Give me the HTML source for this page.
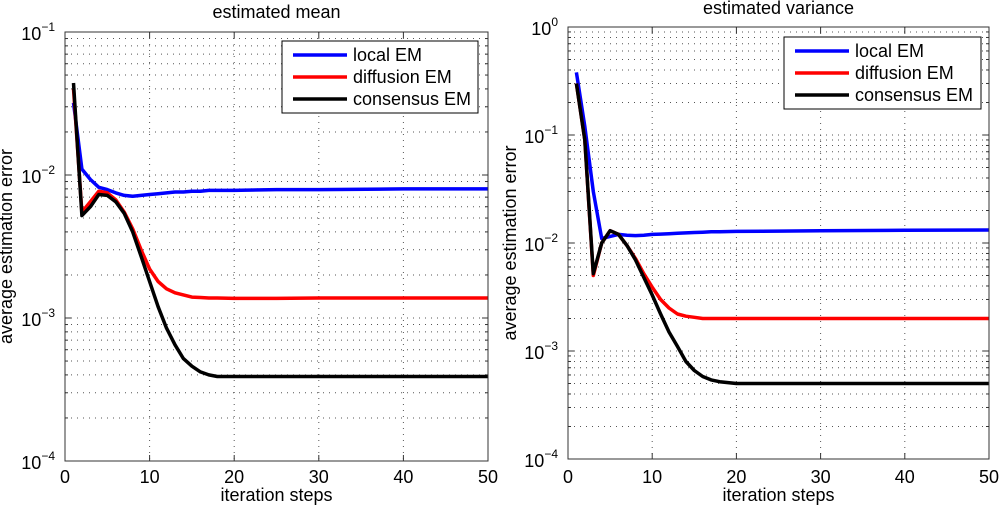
<!DOCTYPE html>
<html><head><meta charset="utf-8">
<style>
html,body{margin:0;padding:0;background:#fff;}
svg{display:block;font-family:"Liberation Sans",Arial,sans-serif;}
</style></head>
<body>
<svg id="chart" width="1000" height="511" viewBox="0 0 1000 511"></svg>
<script>
// ---- data: estimated mean ----
const meanX = [1,2,3,4,5,6,7,8,9,10,11,12,13,14,15,16,17,18,20,25,30,40,50];
const meanLocal = [0.032,0.011,0.0093,0.0082,0.0079,0.0075,0.0072,0.0071,0.0072,0.0073,0.0074,0.0075,0.0076,0.0076,0.0077,0.0077,0.0078,0.0078,0.0078,0.0079,0.0079,0.008,0.008];
const meanDiff = [0.040,0.0055,0.0065,0.0077,0.0075,0.0067,0.0055,0.0042,0.003,0.0022,0.0018,0.0016,0.0015,0.00145,0.0014,0.00139,0.00138,0.00138,0.00137,0.00137,0.00138,0.00138,0.00138];
const meanCons = [0.044,0.0052,0.006,0.0073,0.0072,0.0065,0.0054,0.004,0.0027,0.0018,0.0012,0.00085,0.00065,0.00052,0.00046,0.00042,0.0004,0.00039,0.00039,0.00039,0.00039,0.00039,0.00039];
// ---- data: estimated variance ----
const varX = [1,2,3,4,5,6,7,8,9,10,11,12,13,14,15,16,17,18,20,25,30,40,50];
const varLocal = [0.38,0.12,0.03,0.011,0.0115,0.012,0.0118,0.0117,0.0118,0.012,0.0121,0.0122,0.0123,0.0124,0.0125,0.0126,0.0127,0.0127,0.0128,0.0129,0.013,0.0131,0.0132];
const varDiff = [0.30,0.09,0.005,0.01,0.013,0.012,0.0095,0.0072,0.0052,0.0039,0.003,0.0025,0.0022,0.0021,0.00205,0.002,0.002,0.002,0.002,0.002,0.002,0.002,0.002];
const varCons = [0.30,0.09,0.0052,0.01,0.013,0.012,0.0095,0.007,0.0048,0.0033,0.0022,0.0015,0.0011,0.0008,0.00066,0.00058,0.00054,0.00052,0.0005,0.0005,0.0005,0.0005,0.0005];
const xTicks = [0,10,20,30,40,50];
const legendLabels = ["local EM","diffusion EM","consensus EM"];
const colors = ["#0000ff","#ff0000","#000000"];

const NS="http://www.w3.org/2000/svg";
const svg=document.getElementById('chart');
function mk(tag,attrs,parent){const e=document.createElementNS(NS,tag);for(const k in attrs)e.setAttribute(k,attrs[k]);(parent||svg).appendChild(e);return e;}

function panel(p){
  const g=mk('g',{});
  
  
  const xs=v=>p.x0+(v-0)/(50-0)*(p.x1-p.x0);
  const ys=v=>p.yb-(Math.log10(v)-p.dmin)*(p.yb-p.yt)/(p.dmax-p.dmin);
  for(let d=p.dmin; d<p.dmax; d++){
    for(let m=1;m<=9;m++){
      const v=m*Math.pow(10,d);
      const y=ys(v);
      if(m>1||d>p.dmin){
        const l=mk('line',{x1:p.x0,x2:p.x1,y1:y,y2:y,stroke:'#555','stroke-width':1,'stroke-dasharray':'1,5'},g);
        
        
      }
      const tl=m===1?6:3;
      mk('line',{x1:p.x0,x2:p.x0+tl,y1:y,y2:y,stroke:'#333'},g);
      mk('line',{x1:p.x1,x2:p.x1-tl,y1:y,y2:y,stroke:'#333'},g);
    }
  }
  xTicks.forEach(t=>{
    const x=xs(t);
    if(t>0&&t<50){
      const l=mk('line',{x1:x,x2:x,y1:p.yt,y2:p.yb,stroke:'#555','stroke-width':1,'stroke-dasharray':'1,5'},g);
      
      
    }
    mk('line',{x1:x,x2:x,y1:p.yb,y2:p.yb-6,stroke:'#333'},g);
    mk('line',{x1:x,x2:x,y1:p.yt,y2:p.yt+6,stroke:'#333'},g);
    const tx=mk('text',{x:x,y:483,'font-size':18,'text-anchor':'middle',fill:'#000'},g);
    tx.textContent=t;
    
    
  });
  for(let d=p.dmin; d<=p.dmax; d++){
    const y=ys(Math.pow(10,d));
    const tx=mk('text',{x:p.x0-10,y:y+8,'font-size':18,'text-anchor':'end',fill:'#000'},g);
    
    
    tx.textContent='10';
    const sup=mk('tspan',{dy:-9,'font-size':12},tx);
    sup.textContent=d===0?'0':'\u2212'+Math.abs(d);
  }
  p.series.forEach((s,i)=>{
    const pts=p.xdata.map((xv,j)=>xs(xv).toFixed(1)+','+ys(s[j]).toFixed(1)).join(' ');
    const pl=mk('polyline',{points:pts,fill:'none',stroke:colors[i],'stroke-width':3.5,'stroke-linejoin':'round'},g);
    
    
  });
  mk('rect',{x:p.x0,y:p.yt,width:p.x1-p.x0,height:p.yb-p.yt,fill:'none',stroke:'#333','stroke-width':1},g);
  const lg=mk('g',{},g);
  
  
  mk('rect',{x:p.lx,y:p.ly,width:p.lw,height:72,fill:'#fff',stroke:'#000','stroke-width':1},lg);
  legendLabels.forEach((lab,i)=>{
    const y=p.ly+14+i*22;
    const e=mk('g',{},lg);
    
    
    mk('line',{x1:p.lx+11,x2:p.lx+65,y1:y,y2:y,stroke:colors[i],'stroke-width':3.5},e);
    const t=mk('text',{x:p.lx+71,y:y+6,'font-size':18,fill:'#000'},e);
    t.textContent=lab;
  });
  const tt=mk('text',{x:(p.x0+p.x1)/2,y:p.titleY,'font-size':18,'text-anchor':'middle',fill:'#000'},g);
  tt.textContent=p.title;
  
  
  const xt=mk('text',{x:(p.x0+p.x1)/2,y:501,'font-size':18,'text-anchor':'middle',fill:'#000'},g);
  xt.textContent='iteration steps';
  
  
  const cy=(p.yt+p.yb)/2;
  const yt=mk('text',{x:p.ylx,y:cy,'font-size':18,'text-anchor':'middle',fill:'#000',transform:`rotate(-90 ${p.ylx} ${cy})`},g);
  yt.textContent='average estimation error';
  
  
}

panel({name:'mean-panel',title:'estimated mean',titleY:18,x0:65,x1:488,yt:32,yb:461,dmin:-4,dmax:-1,
  xdata:meanX,series:[meanLocal,meanDiff,meanCons],lx:282,ly:41,lw:196,ylx:12});
panel({name:'variance-panel',title:'estimated variance',titleY:14,x0:568,x1:989,yt:27,yb:459,dmin:-4,dmax:0,
  xdata:varX,series:[varLocal,varDiff,varCons],lx:784,ly:37,lw:197,ylx:516});
</script>
</body></html>
